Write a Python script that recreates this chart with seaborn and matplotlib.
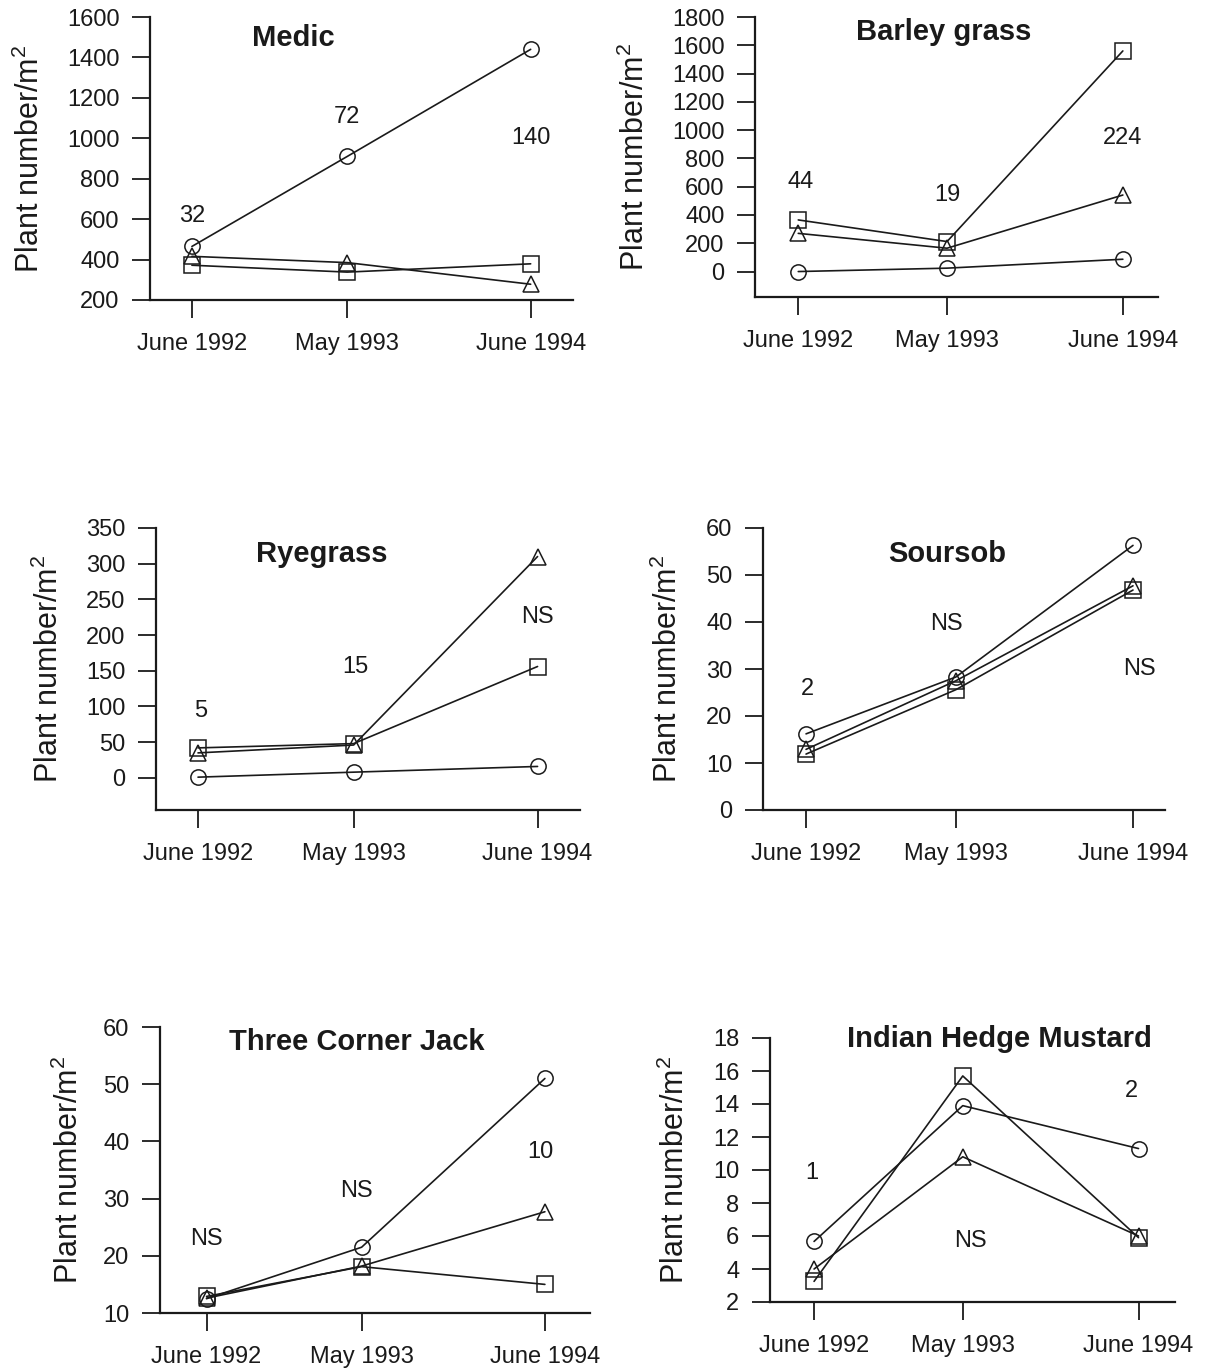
import matplotlib
matplotlib.use("Agg")
import matplotlib.pyplot as plt
import pandas as pd
import seaborn as sns

sns.set_theme(style="ticks")
plt.rcParams["font.family"] = ["Liberation Sans", "DejaVu Sans"]
plt.rcParams["mathtext.fontset"] = "custom"
plt.rcParams["mathtext.rm"] = "Liberation Sans"
plt.rcParams["mathtext.it"] = "Liberation Sans"

# Sampling dates and their position in months after June 1992
dates = ["June 1992", "May 1993", "June 1994"]
months = [0, 11, 24]
treatments = ["circle", "triangle", "square"]

# Plant densities (plants/m2) per weed species and treatment
medic_circle = [465, 910, 1440]
medic_triangle = [416, 385, 278]
medic_square = [372, 338, 379]

barley_circle = [0, 24, 87]
barley_triangle = [270, 165, 541]
barley_square = [365, 212, 1560]

rye_circle = [1, 8, 16]
rye_triangle = [35, 46, 310]
rye_square = [42, 48, 156]

soursob_circle = [16.2, 28.3, 56.3]
soursob_triangle = [12.9, 27.5, 47.7]
soursob_square = [11.9, 25.6, 46.8]

tcj_circle = [12.5, 21.5, 51.0]
tcj_triangle = [12.6, 18.2, 27.7]
tcj_square = [12.9, 18.1, 15.0]

ihm_circle = [5.67, 13.9, 11.3]
ihm_triangle = [4.0, 10.8, 6.0]
ihm_square = [3.25, 15.7, 5.9]

# LSD (P=0.05) labels for each sampling date
medic_lsd = ["32", "72", "140"]
barley_lsd = ["44", "19", "224"]
rye_lsd = ["5", "15", "NS"]
soursob_lsd = ["2", "NS", "NS"]
tcj_lsd = ["NS", "NS", "10"]
ihm_lsd = ["1", "NS", "2"]

W, H = 1211, 1371
fig = plt.figure(figsize=(W / 100, H / 100), dpi=100)
fig.patch.set_facecolor("white")

panels = [
    dict(title="Medic", series=(medic_circle, medic_triangle, medic_square), lsd=medic_lsd,
         rect=(150, 17, 573, 300), xlim=(-2.97, 27.0), ylim=(200, 1600),
         yticks=range(200, 1601, 200), lsd_xy=[(0, 614), (11, 1106), (24, 1000)],
         title_xy=(7.16, 1494), ylab_x=-0.246),
    dict(title="Barley grass", series=(barley_circle, barley_triangle, barley_square), lsd=barley_lsd,
         rect=(755, 17, 1158, 297), xlim=(-3.2, 26.6), ylim=(-180, 1800),
         yticks=range(0, 1801, 200), lsd_xy=[(0.2, 635), (11, 541), (24, 941)],
         title_xy=(10.75, 1694), ylab_x=-0.258),
    dict(title="Ryegrass", series=(rye_circle, rye_triangle, rye_square), lsd=rye_lsd,
         rect=(156, 528, 580, 810), xlim=(-2.97, 27.0), ylim=(-45, 350),
         yticks=range(0, 351, 50), lsd_xy=[(0.2, 93), (11.1, 156), (24, 226)],
         title_xy=(8.75, 313), ylab_x=-0.215),
    dict(title="Soursob", series=(soursob_circle, soursob_triangle, soursob_square), lsd=soursob_lsd,
         rect=(763, 528, 1165, 810), xlim=(-3.16, 26.35), ylim=(0, 60),
         yticks=range(0, 61, 10), lsd_xy=[(0.1, 25.8), (10.3, 39.5), (24.5, 30)],
         title_xy=(10.36, 54.4), ylab_x=-0.197),
    dict(title="Three Corner Jack", series=(tcj_circle, tcj_triangle, tcj_square), lsd=tcj_lsd,
         rect=(160, 1027, 590, 1313), xlim=(-3.3, 27.2), ylim=(10, 60),
         yticks=range(10, 61, 10), lsd_xy=[(0, 22.9), (10.6, 31.3), (23.7, 38.1)],
         title_xy=(10.66, 57.4), ylab_x=-0.174),
    dict(title="Indian Hedge Mustard", series=(ihm_circle, ihm_triangle, ihm_square), lsd=ihm_lsd,
         rect=(770, 1038, 1175, 1302), xlim=(-3.26, 26.7), ylim=(2, 18),
         yticks=range(2, 19, 2), lsd_xy=[(-0.2, 9.8), (11.6, 5.7), (23.5, 14.8)],
         title_xy=(13.7, 17.96), ylab_x=-0.195),
]

marker_map = {"circle": "o", "triangle": "^", "square": "s"}
ink = "#1a1a1a"

for p in panels:
    l, t, r, b = p["rect"]
    ax = fig.add_axes([l / W, 1 - b / H, (r - l) / W, (b - t) / H])

    rows = []
    for name, vals in zip(treatments, p["series"]):
        for m, v in zip(months, vals):
            rows.append({"month": m, "plants": v, "treatment": name})
    df = pd.DataFrame(rows)

    sns.lineplot(data=df, x="month", y="plants", style="treatment",
                 markers=marker_map, dashes=False, color=ink, linewidth=1.2,
                 markersize=11, markerfacecolor="none", markeredgecolor=ink,
                 markeredgewidth=1.1, legend=False, ax=ax)

    ax.set_xlim(*p["xlim"])
    ax.set_ylim(*p["ylim"])
    ax.set_xticks(months)
    ax.set_xticklabels(dates)
    ax.set_yticks(list(p["yticks"]))
    ax.set_xlabel("")
    ax.set_ylabel("Plant number/m$^2$", fontsize=22, color=ink)
    ax.yaxis.set_label_coords(p["ylab_x"], 0.5)

    for side in ("top", "right"):
        ax.spines[side].set_visible(False)
    for side in ("left", "bottom"):
        ax.spines[side].set_linewidth(1.6)
        ax.spines[side].set_color(ink)

    ax.tick_params(axis="both", direction="out", length=13, width=1.3,
                   colors=ink, labelsize=17)
    ax.tick_params(axis="y", pad=9)
    ax.tick_params(axis="x", pad=11)

    ax.text(*p["title_xy"], p["title"], fontsize=21, fontweight="bold",
            ha="center", va="center", color=ink)
    for txt, (x, y) in zip(p["lsd"], p["lsd_xy"]):
        ax.text(x, y, txt, fontsize=17, ha="center", va="center", color=ink)

    ax.set_facecolor("white")

fig.savefig("out.png", dpi=100, facecolor="white")
